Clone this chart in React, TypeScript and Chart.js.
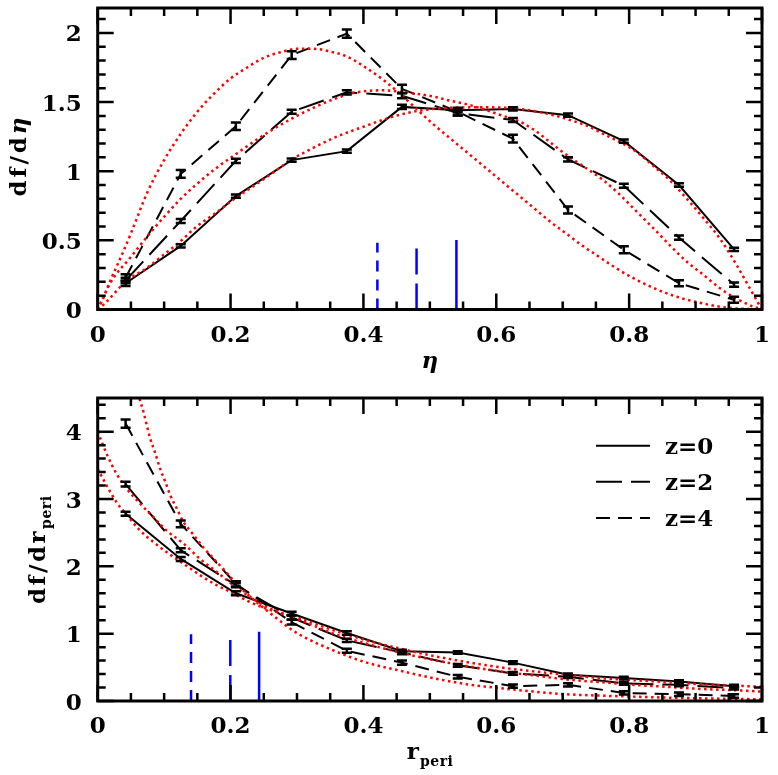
import React, { useEffect, useRef } from "react";
import { Chart, registerables } from "chart.js";

Chart.register(...registerables);

// ---------------- shared bins ----------------
const BIN_CENTERS = [0.042, 0.125, 0.208, 0.292, 0.375, 0.458, 0.542, 0.625, 0.708, 0.792, 0.875, 0.958];
const SERIES_LABELS = ["z=0", "z=2", "z=4"];

// ---------------- top panel: df/dη ----------------
const ETA_Z0 = [0.19, 0.46, 0.82, 1.08, 1.145, 1.465, 1.44, 1.45, 1.405, 1.217, 0.9, 0.435];
const ETA_Z2 = [0.21, 0.64, 1.075, 1.43, 1.57, 1.545, 1.42, 1.37, 1.085, 0.895, 0.52, 0.18];
const ETA_Z4 = [0.23, 0.98, 1.325, 1.84, 1.995, 1.595, 1.43, 1.235, 0.72, 0.432, 0.19, 0.07];
const ETA_Z0_ERR = [0.02, 0.012, 0.012, 0.012, 0.012, 0.015, 0.015, 0.012, 0.012, 0.012, 0.012, 0.012];
const ETA_Z2_ERR = [0.02, 0.015, 0.015, 0.015, 0.015, 0.018, 0.018, 0.015, 0.015, 0.015, 0.015, 0.015];
const ETA_Z4_ERR = [0.025, 0.028, 0.028, 0.028, 0.03, 0.03, 0.028, 0.028, 0.025, 0.025, 0.022, 0.022];

const ETA_FIT_A_X = [0, 0.01, 0.02, 0.035, 0.05, 0.075, 0.1, 0.125, 0.15, 0.175, 0.2, 0.225, 0.25, 0.275, 0.3, 0.325, 0.35, 0.375, 0.4, 0.43, 0.455, 0.48, 0.505, 0.53, 0.555, 0.58, 0.605, 0.63, 0.655, 0.68, 0.705, 0.73, 0.755, 0.78, 0.805, 0.83, 0.855, 0.88, 0.905, 0.93, 0.955, 0.98, 1.0];
const ETA_FIT_A_Y = [0, 0.1, 0.22, 0.38, 0.55, 0.85, 1.08, 1.27, 1.43, 1.56, 1.67, 1.75, 1.82, 1.86, 1.885, 1.885, 1.865, 1.83, 1.76, 1.66, 1.56, 1.45, 1.34, 1.24, 1.14, 1.04, 0.94, 0.84, 0.74, 0.64, 0.55, 0.46, 0.38, 0.3, 0.23, 0.17, 0.12, 0.08, 0.05, 0.025, 0.01, 0.003, 0];
const ETA_FIT_B_X = [0, 0.02, 0.05, 0.075, 0.1, 0.125, 0.15, 0.175, 0.21, 0.24, 0.27, 0.3, 0.33, 0.355, 0.38, 0.405, 0.43, 0.455, 0.48, 0.505, 0.53, 0.555, 0.58, 0.61, 0.636, 0.661, 0.686, 0.711, 0.736, 0.761, 0.786, 0.811, 0.836, 0.861, 0.887, 0.912, 0.937, 0.961, 0.987, 1.0];
const ETA_FIT_B_Y = [0, 0.2, 0.38, 0.53, 0.67, 0.8, 0.91, 1.01, 1.13, 1.23, 1.32, 1.4, 1.47, 1.52, 1.56, 1.58, 1.585, 1.575, 1.56, 1.54, 1.51, 1.485, 1.45, 1.4, 1.357, 1.285, 1.19, 1.1, 1.02, 0.935, 0.83, 0.71, 0.59, 0.466, 0.345, 0.25, 0.153, 0.08, 0.02, 0];
const ETA_FIT_C_X = [0, 0.01, 0.044, 0.074, 0.099, 0.124, 0.149, 0.174, 0.2, 0.24, 0.27, 0.292, 0.305, 0.355, 0.405, 0.445, 0.475, 0.505, 0.53, 0.58, 0.636, 0.686, 0.711, 0.736, 0.761, 0.786, 0.811, 0.836, 0.861, 0.887, 0.912, 0.937, 0.962, 0.982, 1.0];
const ETA_FIT_C_Y = [0, 0.04, 0.21, 0.3, 0.395, 0.49, 0.6, 0.685, 0.78, 0.91, 1.01, 1.087, 1.12, 1.24, 1.33, 1.395, 1.43, 1.45, 1.458, 1.462, 1.45, 1.405, 1.37, 1.33, 1.27, 1.21, 1.14, 1.04, 0.935, 0.8, 0.66, 0.51, 0.32, 0.15, 0];

const ETA_MARK_X = [0.54, 0.48, 0.421];
const ETA_MARK_H = [0.502, 0.502, 0.483];

const ETA_X_TICKS = [0, 0.2, 0.4, 0.6, 0.8, 1];
const ETA_Y_TICKS = [0, 0.5, 1, 1.5, 2];

// ---------------- bottom panel: df/dr_peri ----------------
const R_Z0 = [2.78, 2.11, 1.6, 1.3, 1.01, 0.74, 0.72, 0.57, 0.39, 0.34, 0.29, 0.22];
const R_Z2 = [3.22, 2.24, 1.72, 1.24, 0.9, 0.72, 0.53, 0.41, 0.36, 0.26, 0.24, 0.19];
const R_Z4 = [4.12, 2.63, 1.74, 1.17, 0.745, 0.57, 0.36, 0.22, 0.24, 0.12, 0.1, 0.075];
const R_Z0_ERR = [0.03, 0.03, 0.03, 0.025, 0.025, 0.02, 0.02, 0.02, 0.02, 0.02, 0.02, 0.02];
const R_Z2_ERR = [0.035, 0.03, 0.03, 0.03, 0.025, 0.025, 0.02, 0.02, 0.02, 0.02, 0.02, 0.02];
const R_Z4_ERR = [0.06, 0.05, 0.04, 0.035, 0.03, 0.03, 0.025, 0.025, 0.025, 0.025, 0.025, 0.025];

const R_FIT_P_X = [0.063, 0.069, 0.074, 0.079, 0.087, 0.094, 0.102, 0.109, 0.119, 0.129, 0.14, 0.16, 0.175, 0.19, 0.214, 0.239, 0.264, 0.289, 0.305, 0.355, 0.405, 0.455, 0.505, 0.555, 0.606, 0.656, 0.706, 0.756, 0.806, 0.857, 0.907, 1.0];
const R_FIT_P_Y = [4.49, 4.29, 4.09, 3.9, 3.67, 3.45, 3.25, 3.06, 2.86, 2.66, 2.52, 2.27, 2.11, 1.95, 1.69, 1.47, 1.27, 1.08, 0.98, 0.75, 0.57, 0.45, 0.34, 0.25, 0.19, 0.14, 0.1, 0.08, 0.065, 0.05, 0.04, 0.025];
const R_FIT_Q_X = [0, 0.0135, 0.0286, 0.044, 0.064, 0.084, 0.104, 0.129, 0.154, 0.179, 0.204, 0.229, 0.254, 0.305, 0.355, 0.405, 0.455, 0.505, 0.555, 0.606, 0.656, 0.706, 0.756, 0.806, 0.857, 0.907, 0.957, 1.0];
const R_FIT_Q_Y = [4.0, 3.67, 3.37, 3.15, 2.93, 2.73, 2.53, 2.34, 2.11, 1.92, 1.72, 1.55, 1.4, 1.2, 1.0, 0.85, 0.72, 0.61, 0.52, 0.44, 0.38, 0.32, 0.28, 0.24, 0.21, 0.18, 0.16, 0.14];
const R_FIT_R_X = [0, 0.0135, 0.0286, 0.044, 0.064, 0.084, 0.104, 0.129, 0.154, 0.179, 0.204, 0.229, 0.254, 0.305, 0.355, 0.405, 0.455, 0.505, 0.555, 0.606, 0.656, 0.706, 0.756, 0.806, 0.857, 0.907, 0.957, 1.0];
const R_FIT_R_Y = [3.45, 3.2, 2.95, 2.76, 2.53, 2.36, 2.21, 2.04, 1.87, 1.72, 1.6, 1.47, 1.37, 1.225, 1.05, 0.9, 0.78, 0.67, 0.58, 0.5, 0.44, 0.39, 0.34, 0.31, 0.28, 0.25, 0.23, 0.21];

const R_MARK_X = [0.243, 0.1996, 0.1405];
const R_MARK_H = [1.03, 1.03, 0.99];

const R_X_TICKS = [0, 0.2, 0.4, 0.6, 0.8, 1];
const R_Y_TICKS = [0, 1, 2, 3, 4];

// ---------------- styles ----------------
const FONT = '"DejaVu Serif", serif';
const LABEL_FONT = `bold 23px ${FONT}`;
const BLACK_DASH = [[], [26, 9], [14, 8]];
const BLUE_DASH = [[], [26, 9], [11, 8]];
const RED = "#ff0000";
const BLUE = "#0000ff";

type Seg = { text: string; font: string; dy?: number; spacing?: number };

function pts(xs: number[], ys: number[]) {
  return xs.map((x, i) => ({ x, y: ys[i] }));
}

function segWidth(ctx: CanvasRenderingContext2D, segs: Seg[]) {
  let w = 0;
  segs.forEach((s, si) => {
    ctx.font = s.font;
    const chars = Array.from(s.text);
    chars.forEach((ch, i) => {
      w += ctx.measureText(ch).width;
      const last = si === segs.length - 1 && i === chars.length - 1;
      if (!last) w += s.spacing || 0;
    });
  });
  return w;
}

function drawSegs(ctx: CanvasRenderingContext2D, segs: Seg[], x: number, y: number) {
  let cx = x;
  segs.forEach((s) => {
    ctx.font = s.font;
    Array.from(s.text).forEach((ch) => {
      ctx.fillText(ch, cx, y + (s.dy || 0));
      cx += ctx.measureText(ch).width + (s.spacing || 0);
    });
  });
}

type PanelSpec = {
  series: { ys: number[]; err: number[] }[];
  fits: { xs: number[]; ys: number[] }[];
  markX: number[];
  markH: number[];
  yMax: number;
  xTicks: number[];
  yTicks: number[];
  xMinor: number;
  xMajor: number;
  yMinor: number;
  yMajor: number;
  padding: { left: number; right: number; top: number; bottom: number };
  yTitle: Seg[];
  yTitleX: number;
  yTitleY: number;
  xTitle: Seg[];
  xTitleY: number;
  legend: boolean;
};

function buildConfig(p: PanelSpec): any {
  const datasets: any[] = [];
  p.fits.forEach((f) => {
    datasets.push({
      data: pts(f.xs, f.ys),
      borderColor: RED,
      borderWidth: 2.5,
      borderDash: [2.5, 3.5],
      borderCapStyle: "butt",
      pointRadius: 0,
      cubicInterpolationMode: "monotone",
      fill: false,
      order: 0,
    });
  });
  p.series.forEach((s, i) => {
    datasets.push({
      data: pts(BIN_CENTERS, s.ys),
      borderColor: "#000",
      borderWidth: 2,
      borderDash: BLACK_DASH[i],
      pointRadius: 0,
      tension: 0,
      fill: false,
      order: 1,
      errs: s.err,
    });
  });
  p.markX.forEach((x, i) => {
    datasets.push({
      data: [
        { x, y: 0 },
        { x, y: p.markH[i] },
      ],
      borderColor: BLUE,
      borderWidth: 2.5,
      borderDash: BLUE_DASH[i],
      pointRadius: 0,
      fill: false,
      order: 2,
    });
  });

  const plugin = {
    id: "frame",
    afterDatasetsDraw(chart: any) {
      const { ctx } = chart;
      const xs = chart.scales.x;
      const ys = chart.scales.y;
      ctx.save();
      ctx.strokeStyle = "#000";
      ctx.lineWidth = 2.5;
      ctx.setLineDash([]);
      chart.data.datasets.forEach((ds: any) => {
        if (!ds.errs) return;
        ds.data.forEach((pt: any, i: number) => {
          const px = xs.getPixelForValue(pt.x);
          const y1 = ys.getPixelForValue(pt.y - ds.errs[i]);
          const y2 = ys.getPixelForValue(pt.y + ds.errs[i]);
          ctx.beginPath();
          ctx.moveTo(px, y1);
          ctx.lineTo(px, y2);
          ctx.moveTo(px - 5, y1);
          ctx.lineTo(px + 5, y1);
          ctx.moveTo(px - 5, y2);
          ctx.lineTo(px + 5, y2);
          ctx.stroke();
        });
      });
      ctx.restore();
    },
    afterDraw(chart: any) {
      const { ctx, chartArea: a } = chart;
      const xs = chart.scales.x;
      const ys = chart.scales.y;
      ctx.save();
      ctx.strokeStyle = "#000";
      ctx.setLineDash([]);
      ctx.lineWidth = 2.5;
      const isMajor = (v: number, step: number) => Math.abs(v / step - Math.round(v / step)) < 1e-6;
      for (let i = 0; ; i++) {
        const v = i * p.xMinor;
        if (v > 1 + 1e-9) break;
        const len = isMajor(v, p.xMajor) ? 16 : 8;
        const px = xs.getPixelForValue(v);
        ctx.beginPath();
        ctx.moveTo(px, a.bottom);
        ctx.lineTo(px, a.bottom - len);
        ctx.moveTo(px, a.top);
        ctx.lineTo(px, a.top + len);
        ctx.stroke();
      }
      for (let i = 0; ; i++) {
        const v = i * p.yMinor;
        if (v > p.yMax + 1e-9) break;
        const len = isMajor(v, p.yMajor) ? 16 : 8;
        const py = ys.getPixelForValue(v);
        ctx.beginPath();
        ctx.moveTo(a.left, py);
        ctx.lineTo(a.left + len, py);
        ctx.moveTo(a.right, py);
        ctx.lineTo(a.right - len, py);
        ctx.stroke();
      }
      ctx.lineWidth = 3;
      ctx.strokeRect(a.left, a.top, a.right - a.left, a.bottom - a.top);

      // tick labels
      ctx.fillStyle = "#000";
      ctx.font = LABEL_FONT;
      ctx.textBaseline = "alphabetic";
      ctx.textAlign = "center";
      p.xTicks.forEach((v) => ctx.fillText(String(v), xs.getPixelForValue(v), a.bottom + 32));
      ctx.textAlign = "right";
      p.yTicks.forEach((v) => ctx.fillText(String(v), a.left - 16, ys.getPixelForValue(v) + 8.5));

      // titles
      ctx.textAlign = "left";
      const xw = segWidth(ctx, p.xTitle);
      const cx = (a.left + a.right) / 2;
      drawSegs(ctx, p.xTitle, cx - xw / 2, p.xTitleY);

      ctx.save();
      ctx.translate(p.yTitleX, p.yTitleY);
      ctx.rotate(-Math.PI / 2);
      const yw = segWidth(ctx, p.yTitle);
      drawSegs(ctx, p.yTitle, -yw / 2, 0);
      ctx.restore();

      if (p.legend) {
        const rowsY = [445.7 - 387, 481.7 - 387, 518 - 387];
        rowsY.forEach((ry, i) => {
          ctx.strokeStyle = "#000";
          ctx.lineWidth = 2;
          ctx.setLineDash(BLACK_DASH[i]);
          ctx.beginPath();
          ctx.moveTo(596, ry);
          ctx.lineTo(650, ry);
          ctx.stroke();
          ctx.setLineDash([]);
          ctx.font = LABEL_FONT;
          ctx.textAlign = "left";
          ctx.fillText(SERIES_LABELS[i], 665, ry + 8.3);
        });
      }
      ctx.restore();
    },
  };

  return {
    type: "line",
    data: { datasets },
    options: {
      responsive: false,
      animation: false,
      devicePixelRatio: 1,
      events: [],
      layout: { padding: p.padding },
      plugins: { legend: { display: false }, tooltip: { enabled: false } },
      scales: {
        x: {
          type: "linear",
          display: false,
          min: 0,
          max: 1,
          afterBuildTicks: (s: any) => {
            s.ticks = p.xTicks.map((v) => ({ value: v }));
          },
        },
        y: {
          type: "linear",
          display: false,
          min: 0,
          max: p.yMax,
          afterBuildTicks: (s: any) => {
            s.ticks = p.yTicks.map((v) => ({ value: v }));
          },
        },
      },
    },
    plugins: [plugin],
  };
}

const TOP_SPEC: PanelSpec = {
  series: [
    { ys: ETA_Z0, err: ETA_Z0_ERR },
    { ys: ETA_Z2, err: ETA_Z2_ERR },
    { ys: ETA_Z4, err: ETA_Z4_ERR },
  ],
  fits: [
    { xs: ETA_FIT_A_X, ys: ETA_FIT_A_Y },
    { xs: ETA_FIT_B_X, ys: ETA_FIT_B_Y },
    { xs: ETA_FIT_C_X, ys: ETA_FIT_C_Y },
  ],
  markX: ETA_MARK_X,
  markH: ETA_MARK_H,
  yMax: 2.18,
  xTicks: ETA_X_TICKS,
  yTicks: ETA_Y_TICKS,
  xMinor: 0.05,
  xMajor: 0.2,
  yMinor: 0.1,
  yMajor: 0.5,
  padding: { left: 97.7, right: 16, top: 8, bottom: 77.5 },
  yTitle: [
    { text: "df/d", font: `bold 23px ${FONT}`, spacing: 3 },
    { text: "η", font: `bold italic 23px ${FONT}` },
  ],
  yTitleX: 25.5,
  yTitleY: 157,
  xTitle: [{ text: "η", font: `bold italic 23px ${FONT}` }],
  xTitleY: 367.5,
  legend: false,
};

const BOTTOM_SPEC: PanelSpec = {
  series: [
    { ys: R_Z0, err: R_Z0_ERR },
    { ys: R_Z2, err: R_Z2_ERR },
    { ys: R_Z4, err: R_Z4_ERR },
  ],
  fits: [
    { xs: R_FIT_P_X, ys: R_FIT_P_Y },
    { xs: R_FIT_Q_X, ys: R_FIT_Q_Y },
    { xs: R_FIT_R_X, ys: R_FIT_R_Y },
  ],
  markX: R_MARK_X,
  markH: R_MARK_H,
  yMax: 4.5,
  xTicks: R_X_TICKS,
  yTicks: R_Y_TICKS,
  xMinor: 0.05,
  xMajor: 0.2,
  yMinor: 0.2,
  yMajor: 1,
  padding: { left: 97.7, right: 16, top: 11, bottom: 74 },
  yTitle: [
    { text: "df/dr", font: `bold 23px ${FONT}`, spacing: 2.5 },
    { text: "peri", font: `bold 14px ${FONT}`, dy: 6, spacing: 0.5 },
  ],
  yTitleX: 45,
  yTitleY: 550 - 387,
  xTitle: [
    { text: "r", font: `bold 23px ${FONT}`, spacing: 1 },
    { text: "peri", font: `bold 14px ${FONT}`, dy: 7, spacing: 0.5 },
  ],
  xTitleY: 759 - 387,
  legend: true,
};

export default function App() {
  const topRef = useRef<HTMLCanvasElement>(null);
  const botRef = useRef<HTMLCanvasElement>(null);

  useEffect(() => {
    const c1 = new Chart(topRef.current as HTMLCanvasElement, buildConfig(TOP_SPEC));
    const c2 = new Chart(botRef.current as HTMLCanvasElement, buildConfig(BOTTOM_SPEC));
    return () => {
      c1.destroy();
      c2.destroy();
    };
  }, []);

  return (
    <div style={{ position: "absolute", left: 0, top: 0, width: 778, height: 775, background: "#fff" }}>
      <canvas ref={topRef} width={778} height={387} style={{ display: "block", position: "absolute", left: 0, top: 0 }} />
      <canvas ref={botRef} width={778} height={388} style={{ display: "block", position: "absolute", left: 0, top: 387 }} />
    </div>
  );
}
